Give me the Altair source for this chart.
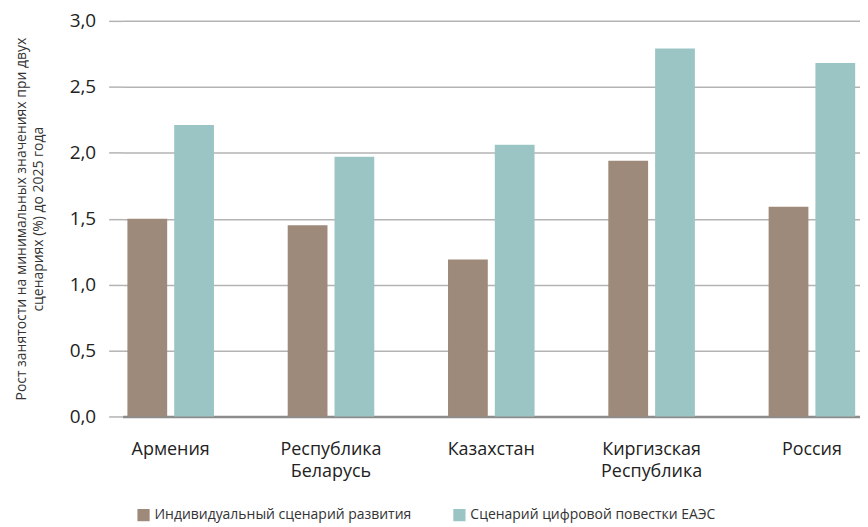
import altair as alt
import pandas as pd

countries = ["Армения", "Республика\nБеларусь", "Казахстан", "Киргизская\nРеспублика", "Россия"]
series = ["Индивидуальный сценарий развития", "Сценарий цифровой повестки ЕАЭС"]
individual = [1.50, 1.45, 1.19, 1.94, 1.59]
digital = [2.21, 1.97, 2.06, 2.79, 2.68]
y_ticks = [0, 0.5, 1.0, 1.5, 2.0, 2.5, 3.0]
colors = ["#9e8a7a", "#9bc5c4"]

rows = []
for c, a, b in zip(countries, individual, digital):
    rows.append({"country": c, "series": series[0], "value": a})
    rows.append({"country": c, "series": series[1], "value": b})
df = pd.DataFrame(rows)

FONT = "Open Sans"

chart = alt.Chart(df).mark_bar().encode(
    x=alt.X("country:N", sort=countries,
            scale=alt.Scale(paddingInner=0.46, paddingOuter=0.03),
            axis=alt.Axis(title=None, labelAngle=0, labelFontSize=18, labelColor="#222222",
                          labelPadding=24, labelLineHeight=22, ticks=False,
                          domainColor="#8c8c8c", domainWidth=2.5,
                          labelExpr="split(datum.label, '\\n')", labelFont=FONT)),
    xOffset=alt.XOffset("series:N", sort=series,
                        scale=alt.Scale(paddingInner=0.15, paddingOuter=0)),
    y=alt.Y("value:Q", scale=alt.Scale(domain=[0, 3]),
            axis=alt.Axis(values=y_ticks, title=["Рост занятости на минимальных значениях при двух",
                                                   "сценариях (%) до 2025 года"],
                          titleFontSize=14, titleFontWeight="normal", titleColor="#333333",
                          titlePadding=24, titleLineHeight=17, titleFont=FONT,
                          labelFontSize=19, labelColor="#222222", labelPadding=13, labelFont=FONT,
                          labelExpr="replace(format(datum.value, '.1f'), '.', ',')",
                          ticks=True, tickSize=14, tickColor="#b3b3b3", tickWidth=1.5,
                          domain=False, gridColor="#b3b3b3", gridWidth=1.5)),
    color=alt.Color("series:N", sort=series,
                    scale=alt.Scale(domain=series, range=colors),
                    legend=alt.Legend(title=None, orient="none", direction="horizontal",
                                      legendX=14, legendY=489, symbolType="square",
                                      symbolSize=150, symbolStrokeWidth=0, labelFontSize=14,
                                      labelLimit=0, symbolOffset=0,
                                      labelColor="#333333", columnPadding=41, labelFont=FONT)),
).properties(
    width=740, height=397,
    padding={"left": 6, "top": 3, "right": 0, "bottom": 0},
).configure_view(stroke=None)

chart.save("out.html", embed_options={"renderer": "svg", "actions": False})
